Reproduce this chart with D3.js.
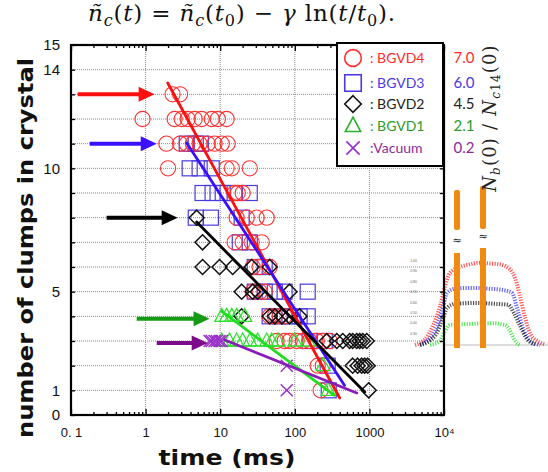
<!DOCTYPE html>
<html><head><meta charset="utf-8">
<script src="https://cdn.jsdelivr.net/npm/d3@7"></script>
<style>body{margin:0;background:#fff}svg{display:block}</style>
</head><body>
<svg id="c" width="548" height="472"></svg>
<script>
// ---------- DATA ----------
const categories = ["BGVD4", "BGVD3", "BGVD2", "BGVD1", "Vacuum"];
const ratioLabels = ["7.0", "6.0", "4.5", "2.1", "0.2"];
const xTickValues = [0.1, 1, 10, 100, 1000, 10000];
const xTickLabels = ["0. 1", "1", "10", "100", "1000", "10\u2074"];
const yTickValues = [0, 1, 5, 10, 14, 15];

// [time (ms), number of clumps]
const bgvd4 = [
  [2.3,13],[2.9,13],
  [0.91,12],[2.45,12],[3.05,12],[3.67,12],[4.55,12],[5.65,12],[7.7,12],[9.3,12],[12.2,12],
  [1.9,11],[2.9,11],[3.55,11],[4.3,11],[5.3,11],[6.8,11],[8.4,11],[10.5,11],[12.6,11],
  [2.0,10],[12.2,10],[14.3,10],[24.9,10],
  [15.6,9],[17.2,9],[20,9],
  [16.6,8],[22.7,8],[30.8,8],[42,8],
  [15.6,7],[20,7],[26.4,7],[36,7],
  [27.3,6],[33.8,6],[46,6],
  [27.3,5],[33.8,5],[39.5,5],
  [46,4],[54,4],[63,4],[73,4],
  [57,3],[73,3],[85,3],[106,3],[128,3],[158,3],[197,3],[237,3],[294,3],
  [203,2],[237,2],
  [222,1]
];
const bgvd3 = [
  [3.56,11],[4.7,11],[5.5,11],
  [3.9,10],[5.3,10],[7.7,10],
  [5.8,9],[7.9,9],[10.8,9],[15.6,9],[24.9,9],
  [4.7,8],[7.5,8],[19.4,8],
  [18.3,7],[24.9,7],
  [29,6],[39.5,6],
  [29,5],[39.5,5],[54,5],[73,5],[149,5],
  [46,4],[63,4],[85,4],[116,4],[149,4],
  [158,3],[252,3],
  [276,2],
  [285,1]
];
const bgvd2 = [
  [4.84,8],
  [5.8,7],
  [5.8,6],[9.8,6],[14.7,6],[26.4,6],[46,6],
  [19.4,5],[27.3,5],[31.8,5],[85,5],
  [19.4,4],[46,4],[54,4],[67,4],[85,4],[116,4],
  [268,3],[365,3],[439,3],[544,3],[597,3],[676,3],[741,3],[813,3],[920,3],
  [597,2],[697,2],[789,2],[865,2],[949,2],
  [979,1]
];
const bgvd1 = [
  [10.5,4],[12.2,4],[14.3,4],[16.6,4],[21.3,4],
  [10.5,3],[13.3,3],[16.6,3],[20,3],[25,3],[31.8,3],[42,3],[49,3],[60,3],[100,3],[150,3],
  [240,2],
  [280,1]
];
const vacuum = [
  [7.2,3],[7.7,3],[8.4,3],[9.0,3],[9.8,3],[10.5,3],
  [78,2],
  [78,1]
];
// fitted lines: [t start, n start, t end, n end]
const fitLines = [
  [1.98, 13.46, 400, 0.69],
  [3.56, 11.03, 465, 1.2],
  [4.84, 7.82, 865, 0.93],
  [10.5, 4.2, 340, 0.8],
  [11.5, 3.04, 676, 0.89]
];
// arrows: [t start, t tip, n level]
const arrowsData = [
  [0.123, 1.32, 13],
  [0.178, 1.41, 11],
  [0.30, 2.69, 8],
  [0.76, 7.2, 3.9],
  [1.41, 6.8, 2.92]
];
// inset density profiles: [position, relative value]
const profRed = [[5,0],[15,0.07],[23,0.23],[30,0.46],[35,0.7],[40,0.86],[50,0.93],[60,0.96],[70,0.98],[80,0.97],[90,0.96],[100,0.9],[105,0.8],[110,0.58],[115,0.33],[120,0.14],[127,0.05],[135,0.01]];
const profBlue = [[10,0],[25,0.17],[32,0.4],[37,0.62],[45,0.67],[60,0.68],[80,0.67],[95,0.65],[102,0.62],[108,0.4],[114,0.17],[120,0.05],[130,0]];
const profBlack = [[10,0],[25,0.11],[32,0.29],[37,0.44],[45,0.49],[65,0.5],[85,0.49],[98,0.48],[104,0.38],[110,0.23],[117,0.07],[125,0.01]];
const profGreen = [[20,0],[30,0.05],[35,0.17],[40,0.24],[60,0.25],[80,0.26],[95,0.24],[100,0.17],[105,0.05],[110,0]];
const insetTickLabels = ["1.00","0.90","0.80","0.70","0.60","0.50","0.40","0.30"];

// ---------- DRAW ----------
const svg = d3.select("#c");
svg.append("rect").attr("width", 548).attr("height", 472).attr("fill", "#fff");

const x = d3.scaleLog().domain([0.1, 1e4]).range([71, 444]);
const y = d3.scaleLinear().domain([0, 15]).range([415, 45]);

const colors = {
  red: "#ff3030", blue: "#4a3be0", black: "#111", green: "#30e030", purple: "#9a30c8"
};
const lineColors = ["#ff1010", "#3a10ff", "#000", "#20dd20", "#8a1cb8"];
const arrowColors = ["#ff1010", "#3a10ff", "#000", "#149a14", "#7d0a8a"];
const textColors = ["#ff2a2a", "#4a3ae6", "#222", "#2a9a2a", "#8a2a9a"];

// grid
const grid = svg.append("g").attr("stroke", "#8a8a8a").attr("stroke-width", 1).attr("stroke-dasharray", "1,1");
grid.selectAll("line.h").data(d3.range(1, 15)).join("line").attr("class", "h")
  .attr("x1", x(0.1)).attr("x2", x(1e4)).attr("y1", d => y(d)).attr("y2", d => y(d));
grid.selectAll("line.v").data([1, 10, 100, 1000]).join("line").attr("class", "v")
  .attr("y1", y(0)).attr("y2", y(15)).attr("x1", d => x(d)).attr("x2", d => x(d));

// inset (density profiles)
const xi = d3.scaleLinear().domain([0, 138]).range([410, 548]);
const yi = d3.scaleLinear().domain([0, 1]).range([345, 261]);
const inset = svg.append("g");
inset.append("line").attr("x1", 444).attr("x2", 548).attr("y1", yi(0)).attr("y2", yi(0)).attr("stroke", "#bbb").attr("stroke-width", 1);
inset.selectAll("text.it").data(insetTickLabels).join("text").attr("class", "it")
  .attr("x", 417).attr("y", (d, i) => 262 + i * 10.4).attr("text-anchor", "end")
  .attr("font-size", 3.5).attr("font-family", "Liberation Sans").attr("fill", "#666").text(d => d);
const pline = d3.line().x(d => xi(d[0])).y(d => yi(d[1])).curve(d3.curveMonotoneX);
[[profRed, "#ff2020"], [profBlue, "#3030ff"], [profBlack, "#111"], [profGreen, "#20dd20"]].forEach(([p, c]) => {
  inset.append("path").attr("d", pline(p)).attr("fill", "none").attr("stroke", c)
    .attr("stroke-width", 4).attr("stroke-dasharray", "1.2,1.4").attr("opacity", 0.75);
});
// orange bars with break marks
const bars = [[47, 190, 230, 253, 240], [73, 186, 229, 248, 236]];
bars.forEach(([px, top, g1, g2, sy]) => {
  inset.append("rect").attr("x", xi(px) - 3).attr("y", top).attr("width", 6).attr("height", g1 - top).attr("rx", 2).attr("fill", "#f28a12");
  inset.append("rect").attr("x", xi(px) - 3).attr("y", g2).attr("width", 6).attr("height", 348 - g2).attr("fill", "#f28a12");
  inset.append("text").attr("x", xi(px)).attr("y", sy + 4).attr("text-anchor", "middle")
    .attr("font-size", 11).attr("font-family", "DejaVu Sans").attr("fill", "#222").text("\u2248");
});

// axes
const minorX = [];
[0.1, 1, 10, 100, 1000].forEach(dec => { for (let k = 2; k <= 9; k++) minorX.push(dec * k); });
const axStyle = g => { g.select(".domain").remove(); g.selectAll("line").attr("stroke", "#000").attr("stroke-width", 1.3); };
svg.append("g").attr("transform", `translate(0,${y(0)})`)
  .call(d3.axisBottom(x).tickValues(xTickValues).tickFormat((d, i) => xTickLabels[i]).tickSize(-6).tickPadding(13))
  .call(axStyle)
  .call(g => g.selectAll("text").attr("font-family", "Liberation Sans").attr("font-size", 13).attr("fill", "#111"));
svg.append("g").attr("transform", `translate(0,${y(0)})`)
  .call(d3.axisBottom(x).tickValues(minorX).tickFormat("").tickSize(-3)).call(axStyle);
svg.append("g").attr("transform", `translate(0,${y(15)})`)
  .call(d3.axisTop(x).tickValues(xTickValues).tickFormat("").tickSize(-6)).call(axStyle);
svg.append("g").attr("transform", `translate(0,${y(15)})`)
  .call(d3.axisTop(x).tickValues(minorX).tickFormat("").tickSize(-3)).call(axStyle);
svg.append("g").attr("transform", `translate(${x(0.1)},0)`)
  .call(d3.axisLeft(y).tickValues(yTickValues).tickSize(0).tickPadding(11))
  .call(axStyle)
  .call(g => g.selectAll("text").attr("font-family", "Liberation Sans").attr("font-size", 15).attr("fill", "#111"));
svg.append("g").attr("transform", `translate(${x(0.1)},0)`)
  .call(d3.axisLeft(y).tickValues(d3.range(0, 16)).tickFormat("").tickSize(-4)).call(axStyle);
svg.append("g").attr("transform", `translate(${x(1e4)},0)`)
  .call(d3.axisRight(y).tickValues(d3.range(0, 16)).tickFormat("").tickSize(-4)).call(axStyle);

// frame
svg.append("rect").attr("x", x(0.1)).attr("y", y(15)).attr("width", x(1e4) - x(0.1)).attr("height", y(0) - y(15))
  .attr("fill", "none").attr("stroke", "#000").attr("stroke-width", 2.2);

// marker shapes
const shapes = {
  circle: (g, s) => g.append("circle").attr("r", 7.6 * s),
  square: (g, s) => g.append("rect").attr("x", -7.5 * s).attr("y", -7.5 * s).attr("width", 15 * s).attr("height", 15 * s),
  diamond: (g, s) => g.append("path").attr("d", `M0,${-7.5 * s}L${7.5 * s},0L0,${7.5 * s}L${-7.5 * s},0Z`),
  triangle: (g, s) => g.append("path").attr("d", `M0,${-8 * s}L${7 * s},${5 * s}L${-7 * s},${5 * s}Z`),
  cross: (g, s) => g.append("path").attr("d", `M${-6 * s},${-6 * s}L${6 * s},${6 * s}M${-6 * s},${6 * s}L${6 * s},${-6 * s}`)
};
const series = [
  { data: bgvd3, shape: "square", color: colors.blue, sw: 1.2 },
  { data: bgvd4, shape: "circle", color: colors.red, sw: 1.1 },
  { data: bgvd2, shape: "diamond", color: colors.black, sw: 1.5 },
  { data: bgvd1, shape: "triangle", color: colors.green, sw: 1.3 },
  { data: vacuum, shape: "cross", color: colors.purple, sw: 1.5 }
];
series.forEach(s => {
  const g = svg.append("g").attr("fill", "none").attr("stroke", s.color).attr("stroke-width", s.sw);
  s.data.forEach(d => {
    const m = g.append("g").attr("transform", `translate(${x(d[0])},${y(d[1])})`);
    shapes[s.shape](m, 1);
  });
});

// fit lines
svg.append("g").selectAll("line").data(fitLines).join("line")
  .attr("x1", d => x(d[0])).attr("y1", d => y(d[1])).attr("x2", d => x(d[2])).attr("y2", d => y(d[3]))
  .attr("stroke", (d, i) => lineColors[i]).attr("stroke-width", 2.8).attr("stroke-linecap", "round");

// arrows
arrowsData.forEach((a, i) => {
  const x0 = x(a[0]), x1 = x(a[1]), yy = y(a[2]);
  svg.append("line").attr("x1", x0).attr("x2", x1 - 14).attr("y1", yy).attr("y2", yy)
    .attr("stroke", arrowColors[i]).attr("stroke-width", 4);
  svg.append("path").attr("d", `M${x1},${yy}L${x1 - 16},${yy - 7.5}L${x1 - 16},${yy + 7.5}Z`).attr("fill", arrowColors[i]);
});

// legend
const lg = svg.append("g");
lg.append("rect").attr("x", 337).attr("y", 43).attr("width", 106).attr("height", 123)
  .attr("fill", "#fff").attr("stroke", "#000").attr("stroke-width", 2);
const legY = [58, 83, 104, 126, 148];
const legShapes = ["circle", "square", "diamond", "triangle", "cross"];
const legColors = [colors.red, colors.blue, colors.black, "#2ab02a", colors.purple];
categories.forEach((c, i) => {
  const m = lg.append("g").attr("transform", `translate(353,${legY[i]})`).attr("fill", "none")
    .attr("stroke", legColors[i]).attr("stroke-width", 1.6);
  shapes[legShapes[i]](m, 1.1);
  lg.append("text").attr("x", 370).attr("y", legY[i] + 5)
    .attr("font-family", "Lato").attr("font-size", 14).attr("fill", textColors[i])
    .text(i === 4 ? ":" + c : ": " + c);
  svg.append("text").attr("x", 464).attr("y", legY[i] + 5).attr("text-anchor", "middle")
    .attr("font-family", "Lato").attr("font-size", 15).attr("fill", textColors[i]).text(ratioLabels[i]);
});

// helper: spread text to a target length
function fitSpacing(t, target) {
  const w = t.node().getComputedTextLength();
  const n = t.text().length;
  if (w < target && n > 1) t.attr("letter-spacing", Math.min(1.2, (target - w) / n));
}

// rotated ratio label N_b(0) / N_c14(0)
const rl = svg.append("text").attr("transform", "translate(496,118) rotate(-90)").attr("text-anchor", "middle")
  .attr("font-family", "DejaVu Serif").attr("font-size", 18).attr("fill", "#222");
rl.append("tspan").attr("font-style", "italic").text("N");
rl.append("tspan").attr("font-style", "italic").attr("font-size", 12).attr("dy", 4).text("b");
rl.append("tspan").attr("dy", -4).text("(0) / ");
rl.append("tspan").attr("font-style", "italic").text("N");
rl.append("tspan").attr("font-style", "italic").attr("font-size", 12).attr("dy", 4).text("c");
rl.append("tspan").attr("font-size", 12).text("14");
rl.append("tspan").attr("dy", -4).text("(0)");
fitSpacing(rl, 150);

// title
const tt = svg.append("text").attr("x", 88).attr("y", 21).attr("font-family", "DejaVu Serif").attr("font-size", 23).attr("fill", "#111");
const parts = [["\u00f1","i"],["c","si"],["(","r"],["t","i"],[") = ","r"],["\u00f1","i"],["c","si"],["(","r"],["t","i"],["0","sr"],[") \u2212 ","r"],["\u03b3","i"],[" ln(","r"],["t","i"],["/","r"],["t","i"],["0","sr"],[").","r"]];
let sub = false;
parts.forEach(([s, st]) => {
  const isSub = st[0] === "s";
  const t = tt.append("tspan").text(s);
  if (st.endsWith("i")) t.attr("font-style", "italic");
  if (isSub) t.attr("font-size", 16);
  if (isSub && !sub) t.attr("dy", 5);
  if (!isSub && sub) t.attr("dy", -5);
  sub = isSub;
});
fitSpacing(tt, 308);

// axis titles
svg.append("text").attr("x", 227).attr("y", 465).attr("text-anchor", "middle")
  .attr("font-family", "DejaVu Sans").attr("font-weight", "bold").attr("font-size", 22).attr("fill", "#111")
  .attr("textLength", 137).attr("lengthAdjust", "spacingAndGlyphs")
  .text("time  (ms)");
svg.append("text").attr("transform", "translate(33,248) rotate(-90)").attr("text-anchor", "middle")
  .attr("font-family", "DejaVu Sans").attr("font-weight", "bold").attr("font-size", 22).attr("fill", "#111")
  .attr("textLength", 380).attr("lengthAdjust", "spacingAndGlyphs")
  .text("number of clumps in crystal");
</script></body></html>
